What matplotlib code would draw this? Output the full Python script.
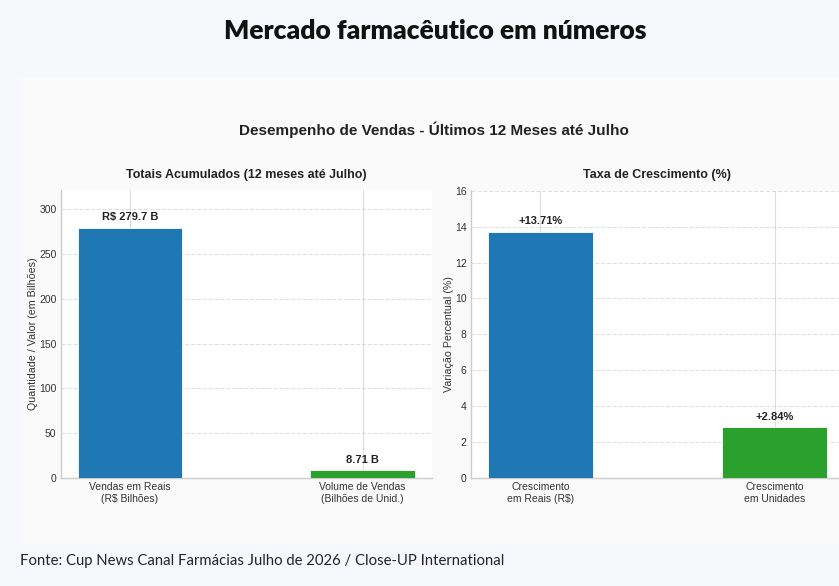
import numpy as np
import matplotlib
matplotlib.use("Agg")
import matplotlib.pyplot as plt
from matplotlib.patches import Rectangle

# dados
categorias_totais = ["Vendas em Reais\n(R$ Bilhões)", "Volume de Vendas\n(Bilhões de Unid.)"]
valores_totais = [279.7, 8.71]
rotulos_totais = ["R$ 279.7 B", "8.71 B"]

categorias_cresc = ["Crescimento\nem Reais (R$)", "Crescimento\nem Unidades"]
valores_cresc = [13.71, 2.84]
rotulos_cresc = ["+13.71%", "+2.84%"]

cores = ["#1f77b4", "#2ca02c"]

W, H = 839, 586
plt.style.use("seaborn-v0_8-whitegrid")
plt.rcParams["font.family"] = ["Liberation Sans", "DejaVu Sans"]

fig = plt.figure(figsize=(W / 100, H / 100), dpi=100)
fig.patch.set_facecolor("#f7f8fc")


def px(x, y, w, h):
    # caixa em pixels (topo-esquerda) -> coordenadas da figura
    return [x / W, 1 - (y + h) / H, w / W, h / H]


# painel cinza claro do grafico embutido
fig.patches.append(Rectangle((20 / W, 1 - 544 / H), 1, (544 - 78) / H,
                             transform=fig.transFigure, facecolor="#fafafa",
                             edgecolor="none", zorder=-5))

fig.text(435 / W, 1 - 31 / H, "Mercado farmacêutico em números", ha="center", va="center",
         fontsize=19, fontweight="heavy", family="Lato", color="#111111")
fig.text(434 / W, 1 - 130 / H, "Desempenho de Vendas - Últimos 12 Meses até Julho",
         ha="center", va="center", fontsize=11, fontweight="bold", color="#222222")
fig.text(20 / W, 1 - 561 / H, "Fonte: Cup News Canal Farmácias Julho de 2026 / Close-UP International",
         ha="left", va="center", fontsize=10.7, family="Lato", color="#222233")


def desenha(ax, cats, vals, rots, titulo, ylabel, ylim, offset):
    x = np.arange(len(cats))
    barras = ax.bar(x, vals, width=0.45, color=cores, edgecolor="white", linewidth=0.6, zorder=3)
    ax.set_xticks(x)
    ax.set_xticklabels(cats, fontsize=7.5, color="#333333")
    ax.tick_params(axis="y", labelsize=7.5, labelcolor="#333333", pad=3)
    ax.tick_params(axis="x", pad=3)
    ax.set_ylim(*ylim)
    ax.set_title(titulo, fontsize=9, fontweight="bold", color="#222222", pad=9)
    ax.set_ylabel(ylabel, fontsize=7.7, color="#333333", labelpad=0.5)
    ax.set_facecolor("white")
    ax.grid(axis="y", linestyle="--", alpha=0.6)
    ax.grid(axis="x", linestyle="-", color="#dddddd")
    for s in ["top", "right"]:
        ax.spines[s].set_visible(False)
    for s in ["left", "bottom"]:
        ax.spines[s].set_color("#cccccc")
    for b, r in zip(barras, rots):
        ax.text(b.get_x() + b.get_width() / 2, b.get_height() + offset, r,
                ha="center", va="bottom", fontsize=8, fontweight="bold", color="#222222")


ax1 = fig.add_axes(px(60.7, 190, 371.3, 288))
desenha(ax1, categorias_totais, valores_totais, rotulos_totais,
        "Totais Acumulados (12 meses até Julho)", "Quantidade / Valor (em Bilhões)",
        (0, 279.7 * 1.15), 6)
ax1.set_yticks(np.arange(0, 301, 50))

ax2 = fig.add_axes(px(470.7, 190.7, 373.5, 287.3))
desenha(ax2, categorias_cresc, valores_cresc, rotulos_cresc,
        "Taxa de Crescimento (%)", "Variação Percentual (%)", (0, 16), 0.3)
ax2.set_yticks(np.arange(0, 17, 2))

fig.savefig("out.png", dpi=100, facecolor=fig.get_facecolor())
